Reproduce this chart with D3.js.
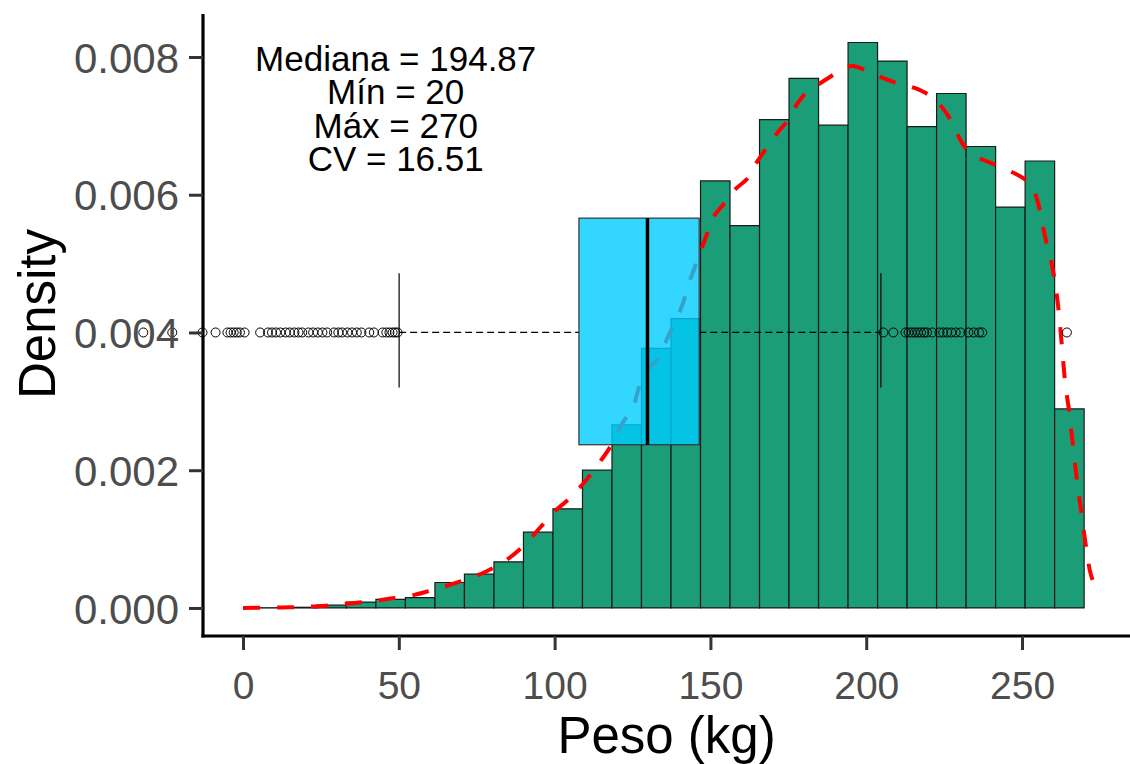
<!DOCTYPE html>
<html>
<head>
<meta charset="utf-8">
<script src="https://cdnjs.cloudflare.com/ajax/libs/d3/7.8.5/d3.min.js"></script>
<style>
    html, body { margin: 0; padding: 0; background: #fff; }
    svg { display: block; font-family: 'Liberation Sans', Arial, sans-serif; }
    .axis path.domain { stroke: #000; stroke-width: 3.2; }
    .axis .tick line { stroke: #333; stroke-width: 3; }
    .axis .tick text { fill: #4D4D4D; }
    .x.axis .tick text { font-size: 39px; }
    .y.axis .tick text { font-size: 42px; }
    .title { font-size: 51px; fill: #000; }
    .stats { font-size: 35px; fill: #000; }
</style>
</head>
<body>
<div id="chart"></div>
<script>
(function () {'use strict';

// Axis ticks
var xTicks = [0, 50, 100, 150, 200, 250];
var yTicks = [0, 0.002, 0.004, 0.006, 0.008];

// Histogram (density scale), left edge of each bin
var binWidth = 9.47;
var binLo = [4.77, 14.24, 23.71, 33.18, 42.65, 52.12, 61.59, 71.06, 80.53,
             90.00, 99.47, 108.94, 118.41, 127.88, 137.35, 146.82, 156.29, 165.76, 175.23,
             184.70, 194.17, 203.64, 213.11, 222.58, 232.05, 241.52, 250.99, 260.46];
var binDensity = [0.000003, 0.00001, 0.00004, 0.000085, 0.000126, 0.00015, 0.00037, 0.00049, 0.00067,
                  0.0011, 0.00144, 0.0020, 0.00266, 0.00377, 0.0042, 0.0062, 0.00555, 0.00709, 0.00769,
                  0.00701, 0.00821, 0.00794, 0.00699, 0.00747, 0.0067, 0.00582, 0.00649, 0.00289];

// Kernel density curve
var densX = [0, 8, 15, 22, 28, 35, 42, 48, 55, 60, 66, 72, 78, 84, 90, 95, 100, 105, 110, 115,
             118, 122, 125, 128, 131, 133, 136, 139, 141, 143, 145, 147, 149, 151, 154, 158, 162, 165, 168, 171.5,
             175, 178, 181, 186, 190.5, 195.5, 200, 205, 210, 215.5, 220, 224.5, 228, 230.5, 234, 239, 243.5, 248.5, 253, 255,
             257.4, 259.5, 261, 262, 263, 264, 265, 266, 267.5, 269, 270.5, 272, 274];
var densY = [0, 0.000005, 0.00001, 0.00002, 0.00004, 0.00007, 0.0001, 0.00014, 0.00019, 0.00025,
             0.00033, 0.00042, 0.00053, 0.00068, 0.0009, 0.00115, 0.0014, 0.0016, 0.00185, 0.00215,
             0.00235, 0.0027, 0.0029, 0.00332, 0.00352, 0.0036, 0.0039, 0.0042, 0.0044, 0.0047,
             0.00495, 0.0052, 0.00544, 0.00568, 0.00585, 0.00608, 0.00624, 0.00648, 0.00668, 0.0069,
             0.00709, 0.00733, 0.00749, 0.00764, 0.00777, 0.00787, 0.0078, 0.0077, 0.00762, 0.00755,
             0.00745, 0.00726, 0.00701, 0.00677, 0.00658, 0.00648, 0.00639, 0.00629, 0.00614, 0.0059,
             0.00539, 0.005, 0.0046, 0.0042, 0.0037, 0.0032, 0.0029, 0.0025, 0.0019, 0.0014,
             0.0009, 0.0005, 0.00024];

// Boxplot: lower whisker, Q1, median, Q3, upper whisker
var boxStats = [50.1, 107.8, 129.8, 146.4, 204.7];
var boxLevel = 0.004;
var boxSpan = [0.00237, 0.00566];
var capSpan = [0.0032, 0.00486];
var outliersLow = [-32, -22.7, -13, -8.8, -5, -4, -3, -2, -1, 0.5, 5.5, 8, 9.3, 10.6, 12, 13.7,
                   15, 16.5, 17.8, 19, 21, 22.5, 24, 25.5, 27, 29.2, 30.6, 31.8, 33.5, 35, 36.5,
                   38, 40.5, 42, 44.8, 46, 47, 48, 48.8, 49.6];
var outliersHigh = [205.5, 208.7, 212.6, 213.6, 214.6, 215.6, 216.6, 217.6, 218.6, 219.5, 221.2,
                    223.5, 224.7, 226, 227.3, 228.7, 230.3, 232.8, 234.5, 236.2, 237.2, 264.4];

// Summary annotation
var statLines = ['Mediana = 194.87', 'Mín = 20', 'Máx = 270', 'CV = 16.51'];
var statAt = [49, 0.0078];

var W = 1130, H = 764,
    margin = { top: 14, right: 0, bottom: 128, left: 203 },
    width  = W - margin.left - margin.right,
    height = H - margin.top - margin.bottom;

var x = d3.scaleLinear().domain([-12.84, 284.65]).range([0, width]),
    y = d3.scaleLinear().domain([-0.000407, 0.008624]).range([height, 0]);

var svg = d3.select('#chart')
    .append('svg')
        .attr('width', W)
        .attr('height', H);

var chart = svg.append('g')
    .attr('transform', 'translate(' + margin.left + ',' + margin.top + ')');

/*
 * HISTOGRAM
 */
chart.append('g')
    .attr('class', 'bars')
    .selectAll('path')
    .data(binDensity)
    .enter().append('path')
        .attr('d', function (d, i) {
            var x0 = x(binLo[i]), x1 = x(binLo[i] + binWidth);
            return 'M' + x0 + ',' + y(0) + 'V' + y(d) + 'H' + x1 + 'V' + y(0) + 'Z';
        })
        .attr('fill', '#1B9E77')
        .attr('stroke', '#1a1a1a')
        .attr('stroke-width', 1.2);

// Density
var line = d3.line()
    .x(function (d) { return x(d[0]); })
    .y(function (d) { return y(d[1]); })
    .curve(d3.curveCatmullRom);

chart.append('path')
    .datum(densX.map(function (v, i) { return [v, densY[i]]; }))
    .attr('d', line)
    .attr('fill', 'none')
    .attr('stroke', '#FF0000')
    .attr('stroke-width', 4)
    .attr('stroke-dasharray', '17,17');

/*
 * BOXPLOT
 */
var box = chart.append('g').attr('class', 'boxplot');

box.selectAll('line.whisker')
    .data([[boxStats[0], boxStats[1]], [boxStats[3], boxStats[4]]])
    .enter().append('line')
        .attr('class', 'whisker')
        .attr('x1', function (d) { return x(d[0]); })
        .attr('x2', function (d) { return x(d[1]); })
        .attr('y1', y(boxLevel))
        .attr('y2', y(boxLevel))
        .attr('stroke', '#000')
        .attr('stroke-width', 1.2)
        .attr('stroke-dasharray', '7,4');

box.selectAll('line.cap')
    .data([boxStats[0], boxStats[4]])
    .enter().append('line')
        .attr('class', 'cap')
        .attr('x1', function (d) { return x(d); })
        .attr('x2', function (d) { return x(d); })
        .attr('y1', y(capSpan[0]))
        .attr('y2', y(capSpan[1]))
        .attr('stroke', '#000')
        .attr('stroke-width', 1.2);

box.append('rect')
    .attr('x', x(boxStats[1]))
    .attr('y', y(boxSpan[1]))
    .attr('width', x(boxStats[3]) - x(boxStats[1]))
    .attr('height', y(boxSpan[0]) - y(boxSpan[1]))
    .attr('fill', '#00CCFF')
    .attr('fill-opacity', 0.8)
    .attr('stroke', '#333')
    .attr('stroke-width', 1.2);

box.append('line')
    .attr('x1', x(boxStats[2]))
    .attr('x2', x(boxStats[2]))
    .attr('y1', y(boxSpan[0]))
    .attr('y2', y(boxSpan[1]))
    .attr('stroke', '#000')
    .attr('stroke-width', 3.5);

box.selectAll('circle')
    .data(outliersLow.concat(outliersHigh))
    .enter().append('circle')
        .attr('cx', function (d) { return x(d); })
        .attr('cy', y(boxLevel))
        .attr('r', 4.5)
        .attr('fill', 'none')
        .attr('stroke', '#000')
        .attr('stroke-width', 1);

/*
 * AXES
 */
chart.append('g')
    .attr('class', 'x axis')
    .attr('transform', 'translate(0,' + height + ')')
    .call(d3.axisBottom(x).tickValues(xTicks).tickSize(14).tickSizeOuter(0).tickPadding(9))
    .call(function (g) { g.select('.domain').attr('d', 'M-1.6,0H' + width); });

chart.append('g')
    .attr('class', 'y axis')
    .call(d3.axisLeft(y).tickValues(yTicks).tickFormat(d3.format('.3f'))
        .tickSize(14).tickSizeOuter(0).tickPadding(10))
    .call(function (g) { g.select('.domain').attr('d', 'M0,' + (height + 1.6) + 'V0'); });

chart.selectAll('.axis text').attr('font-family', null).attr('font-size', null);
chart.selectAll('.x.axis .tick text').attr('dy', '1.02em');
chart.selectAll('.y.axis .tick text').attr('dy', '0.36em');

// Titles
svg.append('text')
    .attr('class', 'title')
    .attr('x', margin.left + width / 2)
    .attr('y', 753)
    .attr('text-anchor', 'middle')
    .text('Peso (kg)');

svg.append('text')
    .attr('class', 'title')
    .attr('transform', 'translate(55,' + 314 + ') rotate(-90)')
    .attr('text-anchor', 'middle')
    .text('Density');

// Annotation
chart.append('text')
    .attr('class', 'stats')
    .attr('text-anchor', 'middle')
    .attr('x', x(statAt[0]))
    .attr('y', y(statAt[1]))
    .selectAll('tspan')
    .data(statLines)
    .enter().append('tspan')
        .attr('x', x(statAt[0]))
        .attr('dy', function (d, i) { return i === 0 ? 0 : 33.5; })
        .text(function (d) { return d; });

})();
</script>
</body>
</html>
